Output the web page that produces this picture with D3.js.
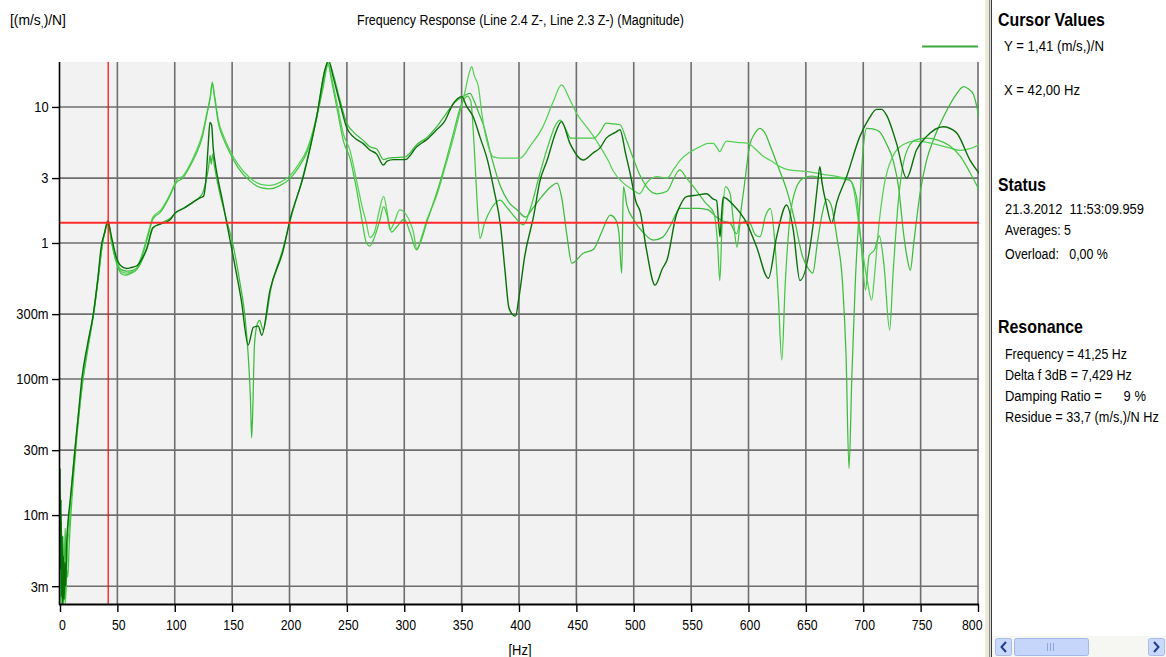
<!DOCTYPE html>
<html>
<head>
<meta charset="utf-8">
<script src="https://cdn.jsdelivr.net/npm/d3@7"></script>
<style>
  html, body { margin: 0; padding: 0; background: #fff; }
  svg { display: block; }
  text { font-family: "Liberation Sans", Arial, sans-serif; fill: #000; white-space: pre; }
</style>
</head>
<body>
<svg id="chart" width="1166" height="657"></svg>
<script>
// ---- data ---------------------------------------------------------------
const freqTicks = [0, 50, 100, 150, 200, 250, 300, 350, 400, 450, 500, 550, 600, 650, 700, 750, 800];
const magTicks = [0.003, 0.01, 0.03, 0.1, 0.3, 1, 3, 10];
const magTickLabels = ["3m", "10m", "30m", "100m", "300m", "1", "3", "10"];

const cursorHz = 42;
const cursorMag = 1.41;

// [frequency Hz, magnitude (m/s²)/N]
const seriesDark = [[0,0.022],[0.4,0.004],[0.9,0.013],[1.4,0.0025],[1.9,0.007],[2.4,0.002],[3,0.005],[3.6,0.0024],[4.3,0.0045],[5,0.003],[5.8,0.006],[7,0.009],[8.5,0.012],[10,0.016],[13,0.03],[16,0.055],[19,0.1],[24,0.18],[29,0.3],[33,0.55],[36,0.95],[39,1.2],[41.5,1.45],[45,1.1],[49,0.79],[53,0.68],[58,0.65],[62,0.66],[67,0.68],[72,0.78],[75.5,0.9],[81,1.3],[88,1.38],[96,1.48],[100,1.65],[108,1.8],[116,2.0],[122,2.15],[125,2.2],[127,2.8],[129,5],[130.7,7.7],[132.2,7.3],[133.5,5],[135,4.0],[142,1.96],[151,0.79],[158,0.38],[164,0.178],[168.5,0.24],[172.8,0.245],[175.8,0.21],[183,0.45],[194.6,0.89],[200.4,1.48],[212,3.07],[223.7,8.5],[231,18.8],[234,22],[238,16.7],[244,10.6],[250,7.0],[256,6.0],[264,5.4],[270,4.83],[276,4.5],[281.8,3.74],[285,4.0],[290.5,4.1],[300.7,4.1],[310.9,5.1],[320,5.8],[328,6.76],[335,7.8],[342.8,10.6],[350,11.9],[354.4,10.1],[360,8.5],[366,6.0],[372.5,4.07],[378,2.5],[384,1.32],[388,0.6],[391,0.34],[394,0.3],[397,0.29],[400,0.4],[405,0.8],[412.9,1.6],[418,2.8],[424.6,4.07],[432,6.5],[437,7.8],[444.4,5.4],[456,4.07],[464.7,4.6],[470.6,5.0],[476,5.9],[484,6.5],[488,6.8],[493,4.5],[497,3.2],[502,2.0],[505.6,1.7],[511,0.9],[518.6,0.49],[525,0.65],[529,0.75],[537,1.6],[540.6,1.9],[546,2.19],[555,2.25],[563.5,2.3],[569.4,2.1],[572.2,2.05],[574,1.4],[575.2,1.11],[576.5,1.6],[578,2.17],[586.8,1.9],[598.4,1.4],[607,0.94],[617.3,0.55],[624.5,1.11],[633.2,1.9],[639,1.25],[644.8,0.53],[656.4,1.38],[660,2.6],[662.2,3.64],[664,2.8],[668,1.9],[672.4,1.4],[677,2.0],[685.5,3.07],[697,6.05],[705,8.2],[711.6,9.6],[716,9.6],[720.3,8.7],[729,5.4],[737.7,2.99],[746.4,4.83],[755,6.05],[769.6,7.16],[781,6.5],[793,4.07],[801,3.25]];

const seriesA = [[0,0.015],[0.7,0.003],[1.3,0.009],[2,0.0022],[2.6,0.007],[3.5,0.003],[4.5,0.008],[5.5,0.004],[6.5,0.007],[8,0.01],[11,0.018],[14,0.035],[17,0.06],[20,0.1],[25,0.19],[30,0.33],[34,0.62],[37,1.0],[40,1.3],[42,1.42],[45,1.05],[49,0.75],[53,0.64],[58,0.62],[63,0.63],[68,0.66],[73,0.8],[77,1.0],[81,1.28],[88,1.4],[96,1.52],[102,1.7],[110,1.85],[118,2.05],[124,2.3],[127,2.8],[129.5,3.6],[130.8,4.4],[131.8,3.8],[133,4.5],[134.5,3.7],[138,2.6],[144,1.6],[151,0.95],[157,0.5],[161,0.3],[164,0.15],[166,0.07],[167,0.037],[168,0.06],[169.5,0.18],[172,0.255],[174,0.27],[177,0.23],[184,0.47],[195,0.95],[201,1.5],[212,3.15],[224,8.7],[231,19],[234,21.5],[238,17.5],[244,11.2],[250,7.6],[256,6.5],[264,5.7],[270,5.1],[276,4.9],[282,4.1],[286,4.2],[292,4.25],[301,4.3],[311,5.3],[320,6.0],[328,7.1],[336,8.8],[344,10.8],[350,11.8],[353,12.2],[357.3,12.6],[361,11],[365,9],[369.4,7.2],[376,4.3],[383.9,2.6],[391,2.0],[398.4,1.75],[405.7,1.55],[412,1.8],[420,2.2],[428,2.6],[433,2.75],[437,2.2],[442,1.1],[446,0.71],[456,0.84],[465,0.9],[472,1.2],[479.6,1.6],[484,1.5],[487,1.2],[489.5,0.6],[491,2.6],[494,1.9],[500,1.48],[508,1.2],[517,1.05],[525,1.1],[532,1.35],[537,1.65],[540,1.8],[550,1.8],[557,1.8],[565,1.75],[572,1.55],[578,1.45],[583.8,1.4],[589.6,1.17],[595.4,2.3],[601.2,5.3],[605,6.3],[610,6.97],[614,6.5],[620,4.9],[626,3.6],[633,2.5],[640,1.5],[647,0.8],[652,0.65],[656,0.6],[660,1.0],[664,1.6],[668,2.1],[672,1.9],[677,1.1],[682,0.5],[685,0.15],[687.6,0.022],[690,0.1],[693,0.5],[697,2.0],[700,5.0],[703,6.97],[708,6.9],[714,6.6],[720,5.4],[726,4.07],[731,2.5],[735,1.2],[738,0.8],[741,0.63],[744,1.0],[749.5,2.32],[755,4.0],[761,5.7],[767,7.5],[773,9.5],[780,12],[787.5,14.1],[792,13.5],[796,12.4],[799,10],[801,8.3]];

const seriesB = [[0,0.008],[0.8,0.0022],[1.6,0.005],[2.5,0.0022],[3.3,0.004],[4.5,0.0022],[5.5,0.003],[6.5,0.006],[8,0.008],[9,0.012],[12,0.025],[15,0.045],[19,0.09],[24,0.17],[29,0.3],[33,0.55],[37,1.0],[40,1.3],[42,1.42],[45,1.02],[49,0.74],[53,0.62],[57,0.6],[62,0.61],[67,0.66],[72,0.85],[77,1.2],[81,1.55],[88,1.75],[95,2.2],[101.7,2.9],[107,3.1],[112,3.6],[118,4.6],[124,6.3],[128,9.0],[131,12],[132.7,15.3],[134.5,12.5],[138,8.0],[143,6.0],[148,4.8],[155,3.8],[165.6,3.0],[175,2.7],[183,2.65],[192,2.8],[200,3.1],[208,3.8],[215,4.8],[222,7.5],[229,14],[233.6,21],[237,16],[242,10],[247,6.3],[252.7,4.8],[258,3.0],[263,1.9],[267,1.4],[270,1.1],[274,1.2],[278,1.7],[282,2.2],[285,1.7],[287.6,1.25],[291,1.4],[296,1.75],[302,1.6],[308,1.2],[311,0.9],[315,1.1],[320,1.5],[328,2.2],[336,3.7],[343,6.0],[349,9.5],[353,13],[356,17],[358.8,19.8],[361,17],[364.6,14.1],[368,8.5],[371.8,5.7],[377.6,4.3],[385,4.2],[393,4.2],[400.9,4.2],[410,5.2],[421,7.2],[430,11],[437,14.5],[444,11.5],[450,9.0],[458,7.3],[466,5.9],[472,4.9],[478,4.0],[482,3.4],[490,2.8],[499.6,2.45],[505,2.3],[511,2.75],[520,3.07],[529,3.0],[535,3.5],[540.6,4.07],[548,4.6],[557.7,5.1],[565,5.4],[569.3,5.4],[572,5.1],[575,4.7],[578,5.2],[580.8,5.6],[590,5.5],[599.7,5.4],[605,5.0],[612,4.4],[620,4.0],[627.4,3.64],[635,3.45],[650.6,3.36],[665,3.2],[679.7,3.05],[688.4,2.9],[692,2.4],[696,1.4],[700,0.8],[704,0.5],[707.3,0.38],[710,0.6],[713,1.2],[718,2.6],[725,4.2],[735,5.3],[745,5.6],[760,5.4],[775,5.0],[785,4.8],[795,5.0],[801,5.3]];

const seriesC = [[0,0.012],[0.6,0.003],[1.2,0.0022],[2,0.007],[2.8,0.0023],[3.6,0.005],[4.6,0.0025],[5.6,0.004],[6.8,0.0035],[8,0.006],[9.5,0.01],[12,0.02],[15,0.04],[19,0.085],[24,0.16],[29,0.29],[33,0.52],[37,0.98],[40,1.28],[42,1.4],[45,1.0],[49,0.72],[53,0.6],[57,0.58],[62,0.6],[67,0.64],[72,0.82],[77,1.15],[81,1.5],[88,1.7],[95,2.15],[101.7,2.8],[107,3.0],[112,3.5],[118,4.4],[124,6.0],[128,8.8],[131,11.8],[132.7,14.8],[134.5,12.0],[138,7.6],[143,5.7],[148,4.6],[155,3.6],[165.6,2.85],[175,2.55],[183,2.5],[192,2.65],[200,2.95],[208,3.6],[215,4.6],[222,7.2],[229,13.5],[233.6,20.5],[237,15],[242,9.2],[247,5.6],[252.7,4.2],[258,2.6],[263,1.5],[267,1.0],[270,0.95],[274,1.1],[279,1.5],[282,1.85],[285,1.6],[289,1.2],[293,1.3],[300,1.5],[305,1.2],[310.8,0.89],[314,1.0],[320,1.45],[328,2.3],[336,3.9],[343,6.5],[349,10],[355,12.0],[358,11],[361,5],[363.5,2.0],[366,1.08],[370,1.4],[376,1.8],[383.4,2.07],[390,1.8],[395,1.6],[403.8,1.36],[410,1.8],[418,3.2],[426,5.4],[432,7.4],[436,8.0],[441,6.8],[445,5.9],[455,5.9],[465,5.9],[471,6.6],[476,7.6],[482,7.5],[488,7.4],[494,5.6],[500,4.1],[505,3.2],[511,2.6],[520,2.3],[529,2.4],[535,3.0],[540,3.44],[546,3.0],[552,2.6],[562,2.0],[570,1.65],[573,1.0],[575,0.53],[577,1.4],[580,2.6],[584,2.3],[587,1.4],[590,0.93],[593,1.4],[600,1.45],[606,1.15],[610,1.11],[615,1.6],[619,1.8],[623,1.0],[626,0.4],[629,0.138],[632,0.5],[636,1.5],[642,2.6],[648,3.0],[655,3.1],[665,3.0],[675,3.0],[688,2.9],[694,2.2],[698,1.0],[702,0.45],[705,0.8],[710,0.9],[714,1.13],[718,0.7],[723,0.229],[726,0.6],[731,2.2],[737,4.5],[745,5.7],[755,5.9],[765,5.7],[775,5.2],[785,4.3],[793,3.3],[801,2.45]];

const seriesList = [
  { values: seriesA, color: "#3dbb3d", width: 1.25 },
  { values: seriesB, color: "#55d055", width: 1.25 },
  { values: seriesC, color: "#42c642", width: 1.25 },
  { values: seriesDark, color: "#0a700a", width: 1.4 }
];

// ---- layout -------------------------------------------------------------
const svg = d3.select("#chart");
const plot = { left: 60, right: 978, top: 62, bottom: 604 };
const narrowFactor = 0.82;   // condensed look of the instrument font

const x = d3.scaleLinear().domain([0, 800]).range([plot.left, plot.right]);
const y = d3.scaleLog().domain([0.00222, 21.4]).range([plot.bottom, plot.top]);

// place a text and squeeze it horizontally to the given width
function squeezedText(parent, str, px, py, width, opts = {}) {
  const g = parent.append("g");
  const t = g.append("text")
    .attr("x", 0).attr("y", 0)
    .attr("font-size", opts.size || 15)
    .attr("font-weight", opts.bold ? "bold" : "normal")
    .attr("text-anchor", opts.anchor || "start");
  if (opts.build) opts.build(t); else t.text(str);
  const natural = t.node().getComputedTextLength() || width;
  g.attr("transform", `translate(${px},${py}) scale(${width / natural},1)`);
  return t;
}

svg.append("rect").attr("width", 1166).attr("height", 657).attr("fill", "#fff");

// plot background
svg.append("rect")
  .attr("x", plot.left).attr("y", plot.top)
  .attr("width", plot.right - plot.left + 1).attr("height", plot.bottom - plot.top)
  .attr("fill", "#f2f2f2");

// grid
const grid = svg.append("g").attr("stroke", "#6e6e6e").attr("stroke-width", 1.6);
grid.selectAll("line.v").data(freqTicks.slice(1)).join("line")
  .attr("x1", d => x(d)).attr("x2", d => x(d))
  .attr("y1", plot.top).attr("y2", plot.bottom);
grid.selectAll("line.h").data(magTicks).join("line")
  .attr("x1", plot.left).attr("x2", plot.right + 1)
  .attr("y1", d => y(d)).attr("y2", d => y(d));

// curves
svg.append("clipPath").attr("id", "plotClip")
  .append("rect")
  .attr("x", plot.left).attr("y", plot.top)
  .attr("width", plot.right - plot.left + 1).attr("height", plot.bottom - plot.top);

const line = d3.line()
  .x(d => x(d[0]))
  .y(d => y(d[1]))
  .curve(d3.curveMonotoneX);

const curves = svg.append("g").attr("clip-path", "url(#plotClip)");
curves.selectAll("path").data(seriesList).join("path")
  .attr("d", d => line(d.values))
  .attr("fill", "none")
  .attr("stroke", d => d.color)
  .attr("stroke-width", d => d.width)
  .attr("stroke-linejoin", "round");

// cursor cross-hair
svg.append("line")
  .attr("x1", x(cursorHz)).attr("x2", x(cursorHz))
  .attr("y1", plot.top).attr("y2", plot.bottom)
  .attr("stroke", "#ff0000").attr("stroke-width", 1.2);
svg.append("line")
  .attr("x1", plot.left).attr("x2", plot.right + 1)
  .attr("y1", y(cursorMag)).attr("y2", y(cursorMag))
  .attr("stroke", "#ff2a2a").attr("stroke-width", 2);

// axes
const xAxis = d3.axisBottom(x).tickValues(freqTicks).tickSize(8).tickPadding(7).tickFormat(d3.format("d"));
const gx = svg.append("g").attr("transform", `translate(0,${plot.bottom})`).call(xAxis);
gx.select(".domain").remove();
gx.selectAll(".tick line").attr("stroke", "#000").attr("stroke-width", 1.4);
gx.selectAll(".tick text")
  .attr("font-size", 15).attr("font-family", null)
  .attr("transform", (d, i) => i === 0 ? `translate(2,0) scale(${narrowFactor},1)` : `translate(1,0) scale(${narrowFactor},1)`);
gx.selectAll(".tick text").filter(d => d === 800)
  .attr("text-anchor", "end")
  .attr("transform", `translate(4,0) scale(${narrowFactor},1)`);

const yAxis = d3.axisLeft(y).tickValues(magTicks).tickSize(7).tickPadding(4)
  .tickFormat((d, i) => magTickLabels[i]);
const gy = svg.append("g").attr("transform", `translate(${plot.left - 1},0)`).call(yAxis);
gy.select(".domain").remove();
gy.selectAll(".tick line").attr("stroke", "#000").attr("stroke-width", 1.4);
gy.selectAll(".tick text")
  .attr("font-size", 15).attr("font-family", null)
  .attr("transform", `translate(-1,0) scale(0.86,1)`);

svg.append("line").attr("x1", plot.left - 0.5).attr("x2", plot.left - 0.5)
  .attr("y1", plot.top).attr("y2", plot.bottom + 1)
  .attr("stroke", "#000").attr("stroke-width", 1.6);
svg.append("line").attr("x1", plot.left - 1).attr("x2", plot.right + 1)
  .attr("y1", plot.bottom + 0.5).attr("y2", plot.bottom + 0.5)
  .attr("stroke", "#000").attr("stroke-width", 1.8);

squeezedText(svg, "[Hz]", x(400) + 1, 655, 23, { anchor: "middle" });

// titles
squeezedText(svg, "[(m/s,)/N]", 10, 25, 56, {
  build: t => {
    t.append("tspan").text("[(m/s");
    t.append("tspan").attr("dy", 2).attr("font-size", 11).text(",");
    t.append("tspan").attr("dy", -2).text(")/N]");
  }
});

squeezedText(svg, "Frequency Response (Line 2.4 Z-, Line 2.3 Z-) (Magnitude)", 357, 25, 327);

// legend swatch
svg.append("line").attr("x1", 922).attr("x2", 978).attr("y1", 46.5).attr("y2", 46.5)
  .attr("stroke", "#3aa83a").attr("stroke-width", 2);

// ---- side panel ---------------------------------------------------------
svg.append("rect").attr("x", 985).attr("y", 0).attr("width", 4).attr("height", 657).attr("fill", "#ece9d8");
svg.append("rect").attr("x", 989).attr("y", 0).attr("width", 1).attr("height", 657).attr("fill", "#8a8a8a");
svg.append("rect").attr("x", 990).attr("y", 0).attr("width", 1).attr("height", 657).attr("fill", "#d8d8d8");
svg.append("rect").attr("x", 991).attr("y", 0).attr("width", 1).attr("height", 657).attr("fill", "#3c3c3c");

const panel = [
  { t: "Cursor Values", x: 998, y: 26, w: 107, bold: true },
  { t: "Y = 1,41 (m/s,)/N", x: 1004, y: 51, w: 100 },
  { t: "X = 42,00 Hz", x: 1004, y: 95, w: 76 },
  { t: "Status", x: 998, y: 191, w: 48, bold: true },
  { t: "21.3.2012  11:53:09.959", x: 1005, y: 214, w: 139 },
  { t: "Averages: 5", x: 1005, y: 235, w: 66 },
  { t: "Overload:   0,00 %", x: 1005, y: 259, w: 103 },
  { t: "Resonance", x: 998, y: 333, w: 85, bold: true },
  { t: "Frequency = 41,25 Hz", x: 1005, y: 359, w: 122 },
  { t: "Delta f 3dB = 7,429 Hz", x: 1005, y: 380, w: 127 },
  { t: "Damping Ratio =      9 %", x: 1005, y: 401, w: 141 },
  { t: "Residue = 33,7 (m/s,)/N Hz", x: 1005, y: 422, w: 154 }
];
const panelG = svg.append("g");
panel.forEach(d => squeezedText(panelG, d.t, d.x, d.y, d.w, { size: d.bold ? 18 : 15, bold: d.bold }));

// scrollbar
const sb = svg.append("g");
sb.append("rect").attr("x", 992).attr("y", 636).attr("width", 174).attr("height", 21).attr("fill", "#f6f6f2");
sb.append("rect").attr("x", 995.5).attr("y", 638.5).attr("width", 16).attr("height", 17).attr("rx", 2)
  .attr("fill", "#c9d8fb").attr("stroke", "#a8bdea");
sb.append("rect").attr("x", 1014.5).attr("y", 638.5).attr("width", 74).attr("height", 17).attr("rx", 2)
  .attr("fill", "#c6d5fa").attr("stroke", "#a2b8e8");
sb.append("rect").attr("x", 1148.5).attr("y", 638.5).attr("width", 16).attr("height", 17).attr("rx", 2)
  .attr("fill", "#c9d8fb").attr("stroke", "#a8bdea");
[1047, 1050, 1053].forEach(gxp => {
  sb.append("line").attr("x1", gxp + 0.5).attr("x2", gxp + 0.5).attr("y1", 643).attr("y2", 651)
    .attr("stroke", "#8ea6d8").attr("stroke-width", 1);
});
sb.append("path").attr("d", "M1006,642 L1001.5,647 L1006,652").attr("fill", "none")
  .attr("stroke", "#1e3f8c").attr("stroke-width", 2);
sb.append("path").attr("d", "M1154,642 L1158.5,647 L1154,652").attr("fill", "none")
  .attr("stroke", "#1e3f8c").attr("stroke-width", 2);
</script>
</body>
</html>
